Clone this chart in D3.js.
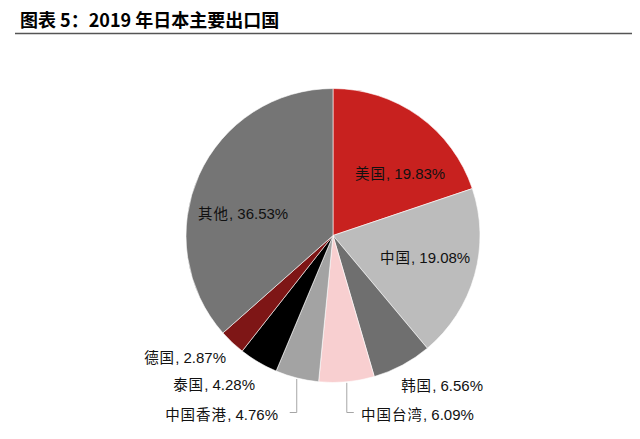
<!DOCTYPE html>
<html>
<head>
<meta charset="utf-8">
<script src="https://cdn.jsdelivr.net/npm/d3@7/dist/d3.min.js"></script>
<style>
  body { margin: 0; background: #fff; }
  .title { font-family: "Noto Sans CJK SC", "Liberation Sans", sans-serif; font-weight: bold; font-size: 18px; fill: #000; }
  .label { font-family: "Liberation Sans", "Noto Sans CJK SC", sans-serif; font-size: 15px; fill: #111; }
  .label .cjk { font-family: "Noto Sans CJK SC", sans-serif; font-size: 14.5px; letter-spacing: 1px; }
</style>
</head>
<body>
<div id="chart"></div>
<script>
"use strict";

// data, clockwise from 12 o'clock
const countries = ["美国", "中国", "韩国", "中国台湾", "中国香港", "泰国", "德国", "其他"];
const shares    = [19.83, 19.08, 6.56, 6.09, 4.76, 4.28, 2.87, 36.53];
const colors    = ["#c8211f", "#bcbcbc", "#6f6f6f", "#f8cfd0", "#a3a3a3", "#000000", "#7e1616", "#757575"];

const titleText = "图表 5：2019 年日本主要出口国";

const size = { width: 640, height: 439 };
const pie = { cx: 333, cy: 235.5, r: 147 };

// label placement relative to pie centre (layout only)
const labelLayout = {
    "美国":     { dx: 22,   dy: -62, anchor: "start" },
    "中国":     { dx: 47,   dy: 22,  anchor: "start" },
    "韩国":     { dx: 150,  dy: 150, anchor: "end" },
    "中国台湾": { dx: 28,   dy: 179, anchor: "start", leader: true },
    "中国香港": { dx: -55,  dy: 179, anchor: "end",   leader: true },
    "泰国":     { dx: -78,  dy: 149, anchor: "end" },
    "德国":     { dx: -107, dy: 122, anchor: "end" },
    "其他":     { dx: -135, dy: -22, anchor: "start" }
};

const svg = d3.select("#chart").append("svg")
    .attr("width", size.width)
    .attr("height", size.height);

// title and rule
svg.append("text")
   .attr("class", "title")
   .attr("x", 20)
   .attr("y", 27)
   .text(titleText);

svg.append("line")
   .attr("x1", 15).attr("x2", 632)
   .attr("y1", 33.5).attr("y2", 33.5)
   .attr("stroke", "#555")
   .attr("stroke-width", 1.5);

const data = countries.map((c, i) => ({ name: c, value: shares[i], color: colors[i] }));

const pieGen = d3.pie()
    .value(d => d.value)
    .sort(null);

const arc = d3.arc()
    .innerRadius(0)
    .outerRadius(pie.r);

const g = svg.append("g")
    .attr("transform", `translate(${pie.cx},${pie.cy})`);

const arcs = pieGen(data);

g.selectAll("path.slice")
 .data(arcs)
 .enter()
 .append("path")
 .attr("class", "slice")
 .attr("d", arc)
 .attr("fill", d => d.data.color)
 .attr("stroke", "#fff")
 .attr("stroke-width", 0.6);

// leader lines for the two bottom slices
arcs.filter(d => labelLayout[d.data.name].leader).forEach(d => {
    const lay = labelLayout[d.data.name];
    const mid = (d.startAngle + d.endAngle) / 2;
    const x0 = Math.sin(mid) * (pie.r + 1);
    const y0 = -Math.cos(mid) * (pie.r + 1);
    const yEnd = lay.dy - 2;
    const xEnd = lay.anchor === "end" ? x0 - 7 : x0 + 7;
    g.append("path")
     .attr("d", `M${x0},${y0}L${x0},${yEnd}L${xEnd},${yEnd}`)
     .attr("fill", "none")
     .attr("stroke", "#a6a6a6")
     .attr("stroke-width", 1);
});

// labels
const labels = g.selectAll("text.label")
    .data(arcs)
    .enter()
    .append("text")
    .attr("class", "label")
    .attr("x", d => labelLayout[d.data.name].dx)
    .attr("y", d => labelLayout[d.data.name].dy)
    .attr("dy", "0.35em")
    .attr("text-anchor", d => labelLayout[d.data.name].anchor);

labels.append("tspan").attr("class", "cjk").text(d => d.data.name);
labels.append("tspan").text(d => ", " + d.data.value.toFixed(2) + "%");
</script>
</body>
</html>
